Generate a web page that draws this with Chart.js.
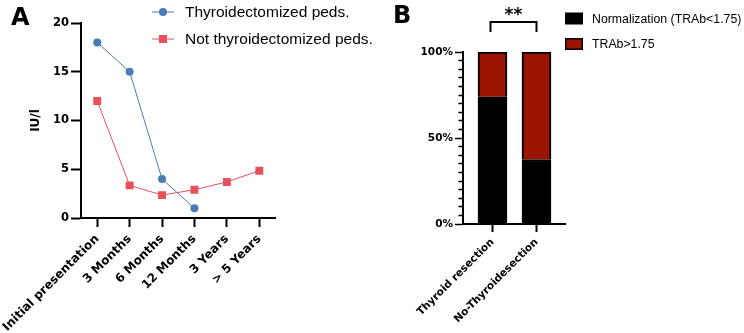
<!DOCTYPE html>
<html><head><meta charset="utf-8">
<script src="https://cdn.jsdelivr.net/npm/chart.js@4.4.1/dist/chart.umd.min.js"></script>
<style>
html,body{margin:0;padding:0;background:#fff;width:744px;height:333px;overflow:hidden}
#wa{position:absolute;left:0;top:0;width:380px;height:333px}
#wb{position:absolute;left:380px;top:0;width:364px;height:333px}
canvas{display:block}
</style></head><body>
<div id="wa"><canvas id="ca" width="380" height="333"></canvas></div>
<div id="wb"><canvas id="cb" width="364" height="333"></canvas></div>
<script>
// ---- Panel A data ----
const timepoints = ['Initial presentation', '3 Months', '6 Months', '12 Months', '3 Years', '> 5 Years'];
const thyroidectomized = [18, 15, 4, 1, null, null];
const notThyroidectomized = [12, 3.35, 2.35, 2.9, 3.7, 4.85];
const seriesNamesA = ['Thyroidectomized peds.', 'Not thyroidectomized peds.'];
const yTicksA = [0, 5, 10, 15, 20];
// ---- Panel B data ----
const groups = ['Thyroid resection', 'No-Thyroidesection'];
const normalization = [74, 37.5];
const trabHigh = [26, 62.5];
const seriesNamesB = ['Normalization (TRAb<1.75)', 'TRAb>1.75'];
const percentLabels = [0, 50, 100];
const significance = '**';

const BLUE = '#4b7bb5', RED = '#e8505b', DARKRED = '#9a1400';
const BOLD = 'DejaVu Sans';
Chart.defaults.font.family = BOLD;
Chart.defaults.color = '#000';

const legendA = {
  id: 'legendA',
  afterDraw(chart) {
    const ctx = chart.ctx; ctx.save();
    const rows = [12, 39];
    chart.data.datasets.forEach((ds, i) => {
      const y = rows[i];
      ctx.strokeStyle = ds.borderColor; ctx.lineWidth = 1;
      ctx.beginPath(); ctx.moveTo(152, y); ctx.lineTo(174, y); ctx.stroke();
      ctx.fillStyle = ds.backgroundColor;
      if (ds.pointStyle === 'circle') { ctx.beginPath(); ctx.arc(163, y, 4, 0, Math.PI * 2); ctx.fill(); }
      else { ctx.fillRect(159, y - 4, 8, 8); }
      ctx.fillStyle = '#000'; ctx.font = '15.5px "Liberation Sans"';
      ctx.textBaseline = 'alphabetic'; ctx.textAlign = 'left';
      ctx.fillText(ds.label, 185, y + 5.4);
    });
    ctx.font = 'bold 24px "DejaVu Sans"'; ctx.textBaseline = 'alphabetic';
    ctx.fillText('A', 11, 24.5);
    ctx.restore();
  }
};

const legendB = {
  id: 'legendB',
  afterDraw(chart) {
    const ctx = chart.ctx; ctx.save();
    const rows = [12.5, 38];
    chart.data.datasets.forEach((ds, i) => {
      const y = rows[i];
      ctx.fillStyle = '#000'; ctx.fillRect(185, y, 18, 12);
      ctx.fillStyle = ds.backgroundColor; ctx.fillRect(186.5, y + 1.5, 15, 9);
      ctx.fillStyle = '#000'; ctx.font = '12.3px "Liberation Sans"';
      ctx.textBaseline = 'alphabetic'; ctx.textAlign = 'left';
      ctx.fillText(ds.label, 212, y + 10.4);
    });
    ctx.font = 'bold 24px "DejaVu Sans"';
    ctx.fillText('B', 13, 23);
    // significance bracket
    const xs = chart.scales.x;
    const p0 = xs.getPixelForValue(0) - 2, p1 = xs.getPixelForValue(1);
    ctx.strokeStyle = '#000'; ctx.lineWidth = 2;
    ctx.beginPath(); ctx.moveTo(p0, 32); ctx.lineTo(p0, 22); ctx.lineTo(p1, 22); ctx.lineTo(p1, 32); ctx.stroke();
    ctx.font = 'bold 17px "DejaVu Sans"'; ctx.textAlign = 'center';
    ctx.fillText(significance, (p0 + p1) / 2, 20);
    ctx.restore();
  }
};

const tickFontA = { family: BOLD, weight: 'bold', size: 11.5 };
const xTickFontA = { family: BOLD, weight: 'bold', size: 12 };
new Chart(document.getElementById('ca'), {
  type: 'line',
  data: {
    labels: timepoints,
    datasets: [
      { label: seriesNamesA[0], data: thyroidectomized, borderColor: BLUE, backgroundColor: BLUE,
        borderWidth: 1, pointStyle: 'circle', pointRadius: 4, pointBorderWidth: 0, pointHoverRadius: 4 },
      { label: seriesNamesA[1], data: notThyroidectomized, borderColor: RED, backgroundColor: RED,
        borderWidth: 1, pointStyle: 'rect', pointRadius: 5.6, pointBorderWidth: 0, pointHoverRadius: 5.6 }
    ]
  },
  options: {
    responsive: false, animation: false, devicePixelRatio: 1,
    layout: { padding: { top: 23, right: 104.5, bottom: 0, left: 0 } },
    plugins: { legend: { display: false }, tooltip: { enabled: false } },
    scales: {
      x: {
        type: 'category', offset: true,
        grid: { drawOnChartArea: false, drawTicks: true, tickLength: 9, tickColor: '#000', tickWidth: 2, offset: false },
        border: { display: true, color: '#000', width: 2 },
        ticks: { color: '#000', font: xTickFontA, minRotation: 45, maxRotation: 45, padding: 5, autoSkip: false },
        afterFit(s) { s.height = 115; s.paddingLeft = 0; s.paddingRight = 0; }
      },
      y: {
        min: 0, max: 20,
        afterBuildTicks(s) { s.ticks = yTicksA.map(v => ({ value: v })); },
        grid: { drawOnChartArea: false, tickLength: 10, tickColor: '#000', tickWidth: 2 },
        border: { display: true, color: '#000', width: 2 },
        ticks: { color: '#000', font: tickFontA, padding: 2 },
        title: { display: true, text: 'IU/l', color: '#000', font: { family: BOLD, weight: 'bold', size: 12 }, padding: { top: 29, bottom: 0 } },
        afterFit(s) { s.width = 81; s.paddingTop = 0; s.paddingBottom = 0; }
      }
    }
  },
  plugins: [legendA]
});

const tickFontB = { family: BOLD, weight: 'bold', size: 10.5 };
new Chart(document.getElementById('cb'), {
  type: 'bar',
  data: {
    datasets: [
      { label: seriesNamesB[0], data: groups.map((g, i) => ({ x: i, y: normalization[i] })),
        backgroundColor: '#000', borderColor: '#000', borderWidth: 2, barThickness: 29 },
      { label: seriesNamesB[1], data: groups.map((g, i) => ({ x: i, y: trabHigh[i] })),
        backgroundColor: DARKRED, borderColor: '#000', borderWidth: 2, barThickness: 29 }
    ]
  },
  options: {
    responsive: false, animation: false, devicePixelRatio: 1,
    layout: { padding: { top: 52, right: 179, bottom: 0, left: 0 } },
    plugins: { legend: { display: false }, tooltip: { enabled: false } },
    scales: {
      x: {
        type: 'linear', stacked: true, min: -0.6705, max: 1.648, offset: false,
        afterBuildTicks(s) { s.ticks = groups.map((g, i) => ({ value: i })); },
        grid: { drawOnChartArea: false, tickLength: 8, tickColor: '#000', tickWidth: 2, offset: false },
        border: { display: true, color: '#000', width: 2 },
        ticks: { color: '#000', font: tickFontB, minRotation: 45, maxRotation: 45, padding: 4, autoSkip: false,
                 callback: (v) => groups[v] },
        afterFit(s) { s.height = 109; s.paddingLeft = 0; s.paddingRight = 0; }
      },
      y: {
        stacked: true, min: 0, max: 100,
        grid: { drawOnChartArea: false, tickLength: 8, tickColor: '#000', tickWidth: 1.5,
                tickBorderDash: (c) => (c.tick && percentLabels.includes(c.tick.value)) ? [] : [0, 3.5, 4.5, 20] },
        border: { display: true, color: '#000', width: 2 },
        ticks: { color: '#000', font: tickFontB, padding: 2, stepSize: 5, maxTicksLimit: 25, autoSkip: false,
                 callback: (v) => percentLabels.includes(v) ? v + '%' : '' },
        afterFit(s) { s.width = 83; s.paddingTop = 0; s.paddingBottom = 0; }
      }
    }
  },
  plugins: [legendB]
});
</script>
</body></html>
